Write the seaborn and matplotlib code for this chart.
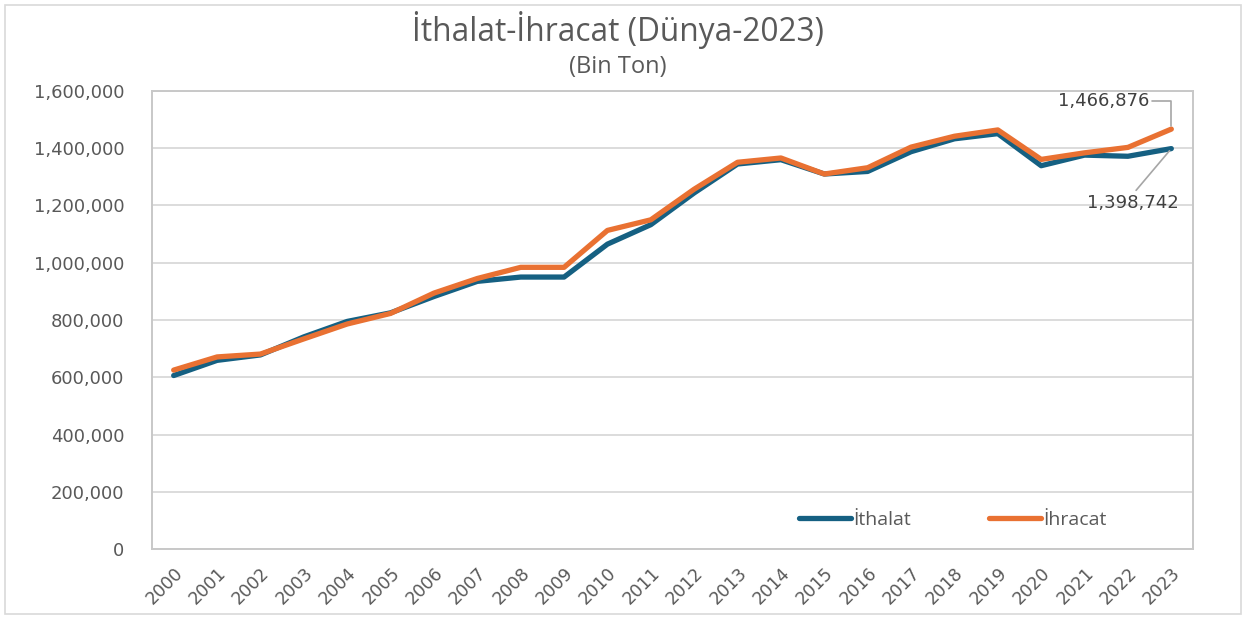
import pandas as pd
import matplotlib.pyplot as plt
import seaborn as sns
from matplotlib.ticker import FuncFormatter, MultipleLocator
from matplotlib.patches import Rectangle

# data (Bin Ton); 2023 values are labelled
years = list(range(2000, 2024))
ithalat = [606000, 659000, 678000, 741000, 795000, 825000, 882000, 935000, 950000, 950000,
           1065000, 1133000, 1244000, 1345000, 1360000, 1310000, 1319000, 1388000, 1433000, 1451000,
           1339000, 1376000, 1372000, 1398742]
ihracat = [625000, 671000, 681000, 734000, 786000, 823000, 894000, 945000, 984000, 984000,
           1113000, 1150000, 1257000, 1351000, 1366000, 1310000, 1332000, 1404000, 1442000, 1464000,
           1361000, 1384000, 1403000, 1466876]
series = ['İthalat', 'İhracat']
colors = ['#156082', '#E97132']

df = pd.DataFrame({
    'Yıl': years * 2,
    'Değer': ithalat + ihracat,
    'Seri': [series[0]] * len(years) + [series[1]] * len(years),
})

sns.set_theme(style='white')
plt.rcParams['font.family'] = ['Open Sans', 'DejaVu Sans']

fig = plt.figure(figsize=(12.43, 6.17), dpi=100)
ax = fig.add_axes([152 / 1243, 68 / 617, 1041 / 1243, 458 / 617])

sns.lineplot(data=df, x='Yıl', y='Değer', hue='Seri', palette=colors, linewidth=3.8,
             solid_capstyle='round', solid_joinstyle='round', ax=ax)

ax.set_xlim(years[0] - 0.5, years[-1] + 0.5)
ax.set_ylim(0, 1600000)
ax.yaxis.set_major_locator(MultipleLocator(200000))
ax.yaxis.set_major_formatter(FuncFormatter(lambda v, p: f'{int(v):,}'))
ax.set_xticks(years)
ax.set_xticklabels([str(y) for y in years], rotation=45, ha='right', va='top',
                   rotation_mode='anchor')
ax.grid(axis='y', color='#d9d9d9', linewidth=1.3)
ax.set_axisbelow(True)
for s in ax.spines.values():
    s.set_color('#c8c8c8')
    s.set_linewidth(1.4)
ax.tick_params(axis='both', length=0, colors='#595959', labelfontfamily='DejaVu Sans')
ax.tick_params(axis='y', labelsize=13, pad=20)
ax.tick_params(axis='x', labelsize=12.5, pad=11)
ax.set_xlabel('')
ax.set_ylabel('')

leg = ax.legend(loc='center left', bbox_to_anchor=(0.612, 0.063), ncol=2, frameon=False,
                fontsize=14, handlelength=2.7, handletextpad=0.1, columnspacing=4.0,
                borderpad=0)
for t in leg.get_texts():
    t.set_color('#595959')
for h in leg.get_lines():
    h.set_linewidth(3.8)

# end labels
ax.annotate(f'{ihracat[-1]:,}', xy=(years[-1], ihracat[-1]), xytext=(-68, 28),
            textcoords='offset pixels', ha='center', va='center', fontsize=13,
            family='DejaVu Sans', color='#404040',
            arrowprops=dict(arrowstyle='-', color='#a6a6a6', lw=1.2, relpos=(1, 0.5),
                            shrinkA=0, shrinkB=2,
                            connectionstyle='angle,angleA=0,angleB=90,rad=0'))
ax.annotate(f'{ithalat[-1]:,}', xy=(years[-1], ithalat[-1]), xytext=(-38, -54),
            textcoords='offset pixels', ha='center', va='center', fontsize=13,
            family='DejaVu Sans', color='#404040',
            arrowprops=dict(arrowstyle='-', color='#a6a6a6', lw=1.2, relpos=(0.5, 1),
                            shrinkA=0, shrinkB=2))

fig.text(0.4972, 1 - 30 / 617, 'İthalat-İhracat (Dünya-2023)', ha='center', va='center',
         fontsize=22.8, color='#595959')
fig.text(0.4972, 1 - 67 / 617, '(Bin Ton)', ha='center', va='center',
         fontsize=17, color='#595959')

fig.patches.append(Rectangle((5 / 1243, 3 / 617), 1236 / 1243, 609 / 617,
                             transform=fig.transFigure, fill=False,
                             edgecolor='#d9d9d9', linewidth=1.2))

fig.savefig('out.png', dpi=100)
